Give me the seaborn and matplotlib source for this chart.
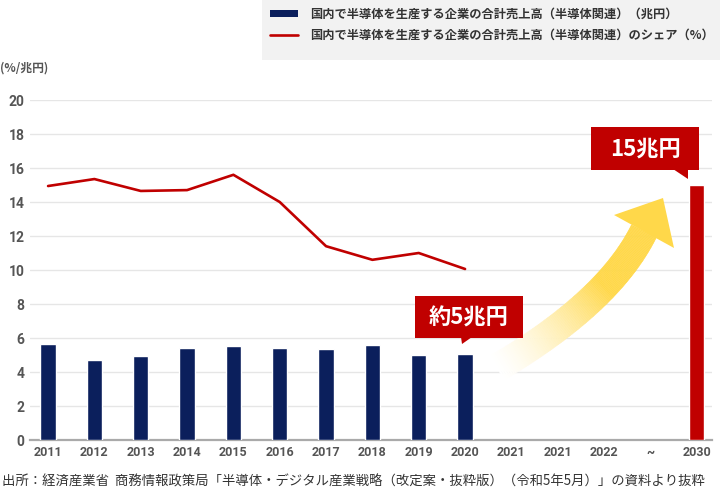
import numpy as np
import pandas as pd
import seaborn as sns
import matplotlib.pyplot as plt
from matplotlib.patches import Rectangle, Polygon, Patch
from matplotlib.lines import Line2D
from matplotlib.collections import PolyCollection

# data
years = ['2011', '2012', '2013', '2014', '2015', '2016', '2017', '2018', '2019', '2020',
         '2021', '2021', '2022', '~', '2030']
sales = [5.65, 4.7, 4.94, 5.4, 5.53, 5.4, 5.35, 5.6, 5.0, 5.06,
         np.nan, np.nan, np.nan, np.nan, 15.0]
kind = ['実績'] * 10 + ['目標'] * 5
share_years = list(range(10))
share = [14.94, 15.35, 14.65, 14.7, 15.6, 14.0, 11.4, 10.6, 11.0, 10.06]

label_sales = '国内で半導体を生産する企業の合計売上高（半導体関連）（兆円）'
label_share = '国内で半導体を生産する企業の合計売上高（半導体関連）のシェア（%）'
source = '出所：経済産業省  商務情報政策局「半導体・デジタル産業戦略（改定案・抜粋版）（令和5年5月）」の資料より抜粋'

navy = '#0B1F5C'
red = '#C00000'
yellow = np.array([255, 216, 74]) / 255

sns.set_theme(style='white')
plt.rcParams['font.family'] = ['Noto Sans CJK JP', 'DejaVu Sans']

W, H = 720, 495
fig = plt.figure(figsize=(7.2, 4.95), dpi=100)

def px(x, y):
    return (x / W, 1 - y / H)

ax = fig.add_axes([30 / W, 1 - 440 / H, 682 / W, 340 / H])

df = pd.DataFrame({'pos': range(len(years)), 'sales': sales, 'kind': kind})
sns.barplot(data=df, x='pos', y='sales', hue='kind', order=list(range(len(years))),
            palette={'実績': navy, '目標': red}, dodge=False, width=0.33,
            saturation=1, legend=False, ax=ax, zorder=3)
sns.lineplot(x=share_years, y=share, color=red, linewidth=1.9, ax=ax, zorder=4)

ax.set_xlim(-0.39, 14.33)
ax.set_ylim(0, 20)
ax.set_yticks(range(0, 21, 2))
ax.set_xticks(range(len(years)))
ax.set_xticklabels(years, family=['Roboto', 'DejaVu Sans'], fontweight='bold',
                   fontsize=9, color='#555555')
for t in ax.get_yticklabels():
    t.set_family(['Roboto', 'DejaVu Sans'])
    t.set_fontweight('bold')
    t.set_fontsize(10)
    t.set_color('#555555')
ax.set_xlabel('')
ax.set_ylabel('')
ax.tick_params(axis='both', length=0)
ax.tick_params(axis='x', pad=4)
ax.tick_params(axis='y', pad=4)
ax.yaxis.grid(True, color='#E6E6E6', linewidth=1)
ax.set_axisbelow(True)
for s in ['top', 'right', 'left']:
    ax.spines[s].set_visible(False)
ax.spines['bottom'].set_color('#AAAAAA')
ax.spines['bottom'].set_linewidth(1.6)

fig.text(px(0, 68)[0], px(0, 68)[1], '(%/兆円)', fontsize=8.5, fontweight='bold',
         color='#555555', va='center', ha='left')

# legend
fig.add_artist(Rectangle(px(262, 60), 458 / W, 60 / H, transform=fig.transFigure,
                         facecolor='#F2F2F2', edgecolor='none', zorder=0))
handles = [Patch(facecolor=navy, edgecolor='none'),
           Line2D([0], [0], color=red, linewidth=1.9)]
leg = fig.legend(handles, [label_sales, label_share], loc='upper left',
                 bbox_to_anchor=px(266, 4), frameon=False, fontsize=8.8,
                 handlelength=2.3, handleheight=0.55, handletextpad=1.0,
                 labelspacing=0.7, borderaxespad=0, borderpad=0.3)
for t in leg.get_texts():
    t.set_color('#333333')
    t.set_fontweight('bold')

# callouts
def callout(x0, y0, x1, y1, tail, text):
    fig.add_artist(Rectangle(px(x0, y1), (x1 - x0) / W, (y1 - y0) / H,
                             transform=fig.transFigure, facecolor=red,
                             edgecolor='none', zorder=5))
    fig.add_artist(Polygon([px(*p) for p in tail], closed=True, transform=fig.transFigure,
                           facecolor=red, edgecolor='none', zorder=5))
    cx, cy = px((x0 + x1) / 2, (y0 + y1) / 2 + 1)
    fig.text(cx, cy, text, color='white', fontsize=16, fontweight='bold',
             ha='center', va='center', zorder=6)

callout(415, 296, 523, 338, [(461, 337), (472, 337), (462, 344)], '約5兆円')
callout(591, 127, 699, 170, [(673, 169), (688, 169), (688, 179)], '15兆円')

# yellow arrow
P0 = np.array([497, 368.0])
P1 = np.array([609, 302.0])
P2 = np.array([644, 231.0])
t = np.linspace(0, 1, 120)
pts = ((1 - t) ** 2)[:, None] * P0 + (2 * (1 - t) * t)[:, None] * P1 + (t ** 2)[:, None] * P2
d = np.gradient(pts, axis=0)
nrm = np.stack([-d[:, 1], d[:, 0]], axis=1)
nrm /= np.linalg.norm(nrm, axis=1)[:, None]
hw = 14
left = pts + nrm * hw
right = pts - nrm * hw
polys, cols = [], []
for i in range(len(t) - 1):
    quad = [px(*left[i]), px(*left[i + 1]), px(*right[i + 1]), px(*right[i])]
    polys.append(quad)
    a = min(1.0, (t[i] / 0.6)) ** 1.3
    cols.append(tuple(1 - a * (1 - yellow)) + (1.0,))
pc = PolyCollection(polys, facecolors=cols, edgecolors=cols, linewidths=0.3,
                    transform=fig.transFigure, zorder=3)
fig.add_artist(pc)
fig.add_artist(Polygon([px(614, 215), px(663, 198), px(674, 248)], closed=True,
                       transform=fig.transFigure, facecolor=yellow, edgecolor='none',
                       zorder=3))

fig.text(px(2, 482)[0], px(2, 482)[1], source, fontsize=9.6, color='#333333',
         ha='left', va='center')

fig.savefig('out.png', dpi=100)
